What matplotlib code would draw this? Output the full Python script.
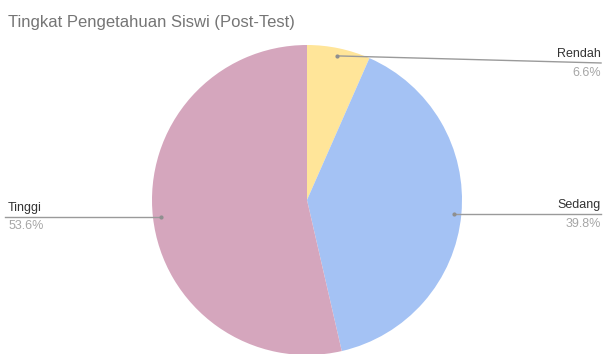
import matplotlib.pyplot as plt
import numpy as np

plt.rcParams['font.family'] = ['Liberation Sans', 'DejaVu Sans']

title = "Tingkat Pengetahuan Siswi (Post-Test)"
labels = ["Rendah", "Sedang", "Tinggi"]
values = [6.6, 39.8, 53.6]
colors = ["#FFE599", "#A4C2F4", "#D5A6BD"]

W, H = 603, 354
cx, cy, R = 307, 200, 155   # pie centre and radius in pixels (from top)

fig = plt.figure(figsize=(W / 100, H / 100), dpi=100)
ax = fig.add_axes([0, 0, 1, 1])

wedges, _ = ax.pie(values, colors=colors, startangle=90, counterclock=False,
                   radius=1, center=(0, 0), wedgeprops=dict(linewidth=0))

# pie() resets the limits, so set them afterwards
ax.set_xlim(-cx / R, (W - cx) / R)
ax.set_ylim(-(H - cy) / R, cy / R)
ax.set_aspect('equal')
ax.axis('off')

# label ends (x, y) in data units, plus alignment
ends = {"Rendah": (1.897, 0.884, 'right'),
        "Sedang": (1.897, None, 'right'),
        "Tinggi": (-1.948, None, 'left')}

for w, lab, v in zip(wedges, labels, values):
    mid = np.deg2rad((w.theta1 + w.theta2) / 2)
    px, py = 0.95 * np.cos(mid), 0.95 * np.sin(mid)
    ex, ey, ha = ends[lab]
    if ey is None:
        ey = py
    ax.plot([px, ex], [py, ey], color='#9a9a9a', lw=1)
    ax.plot(px, py, 'o', color='#8f8f8f', ms=2)
    tx = ex + 0.02 if ha == 'left' else ex
    ax.text(tx, ey + 0.02, lab, ha=ha, va='bottom', fontsize=9, color='#333333')
    ax.text(tx, ey - 0.025, "%.1f%%" % v, ha=ha, va='top', fontsize=9, color='#a6a6a6')

fig.text(8 / W, 1 - 22 / H, title, ha='left', va='center', fontsize=12, color='#757575')

fig.savefig("out.png", dpi=100)
